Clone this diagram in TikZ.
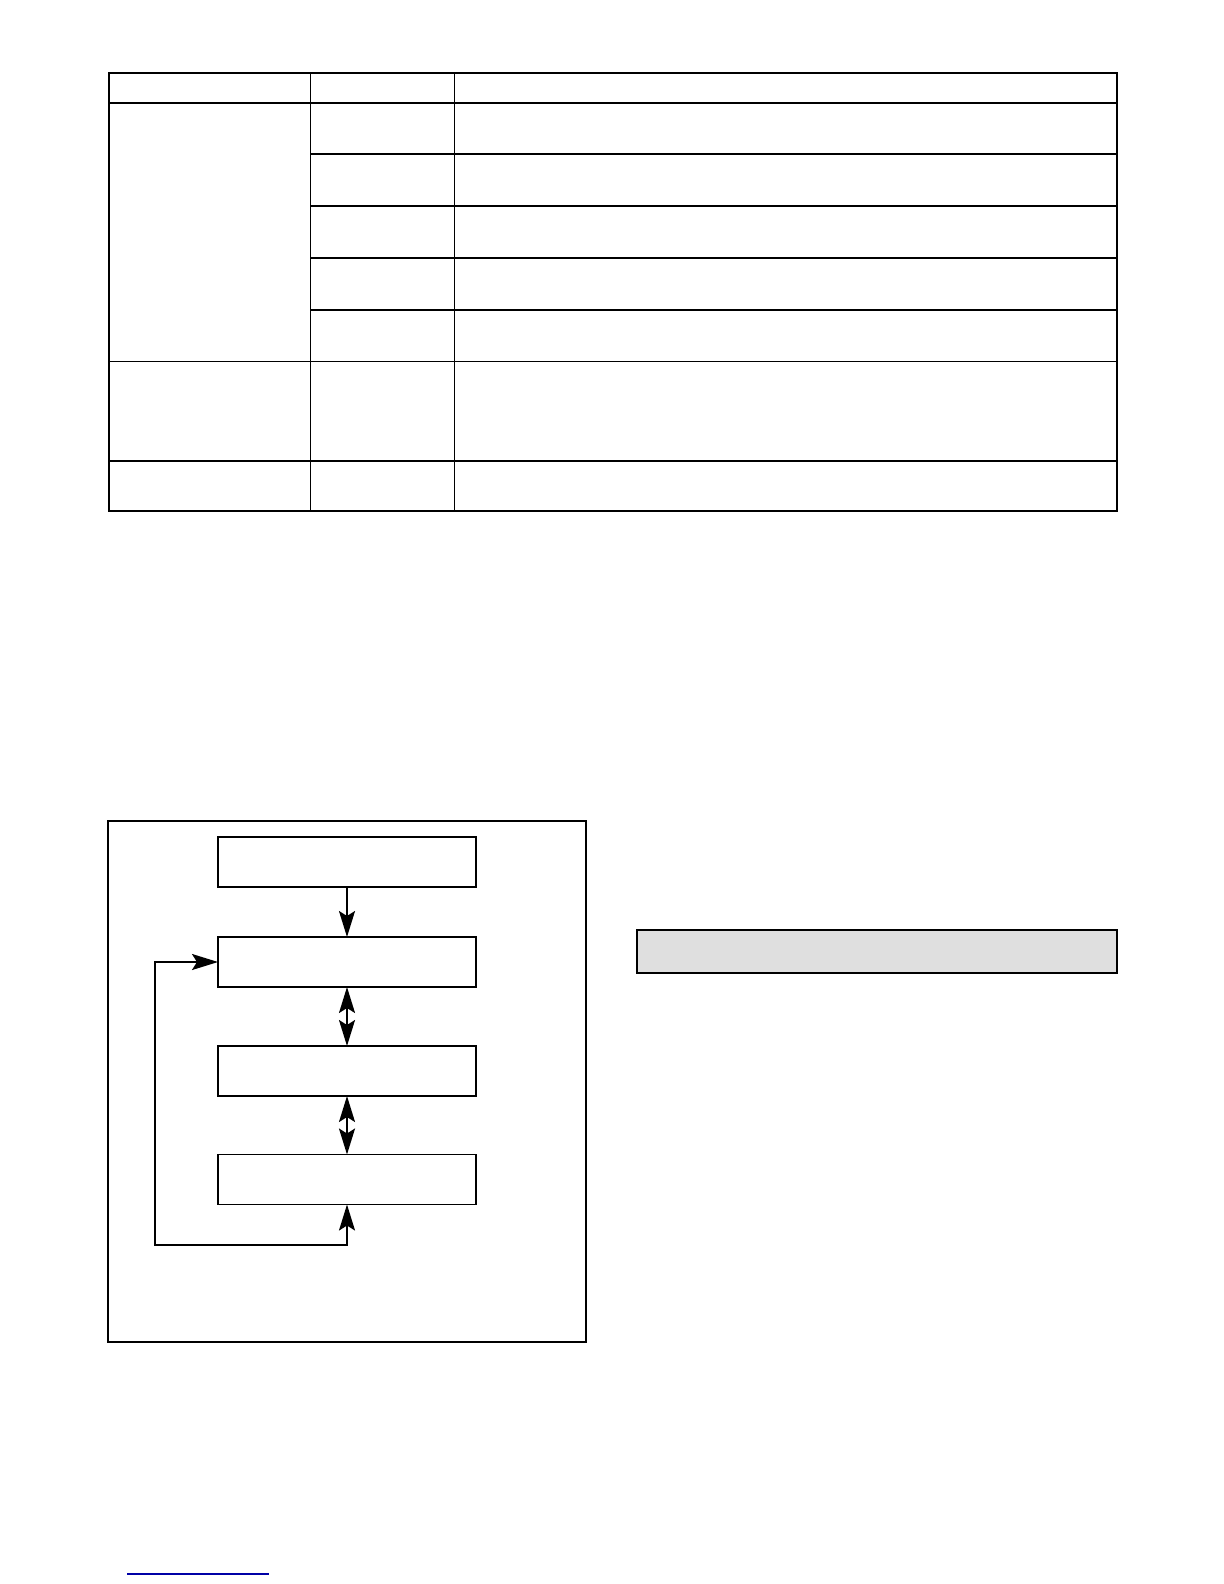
\documentclass[tikz,border=0pt]{standalone}
\usetikzlibrary{positioning,arrows.meta}

\tikzset{
  stagebox/.style={draw, line width=0.6pt, minimum width=129pt, minimum height=25pt,
    inner sep=0pt, outer sep=0pt},
  flowarrow/.style={line width=1pt, >={Stealth[length=13pt,width=8pt,inset=2.5pt]}}
}

\begin{document}
\begin{tikzpicture}[x=0.5pt,y=-0.5pt]
  \useasboundingbox (0,0) rectangle (1224,1584);

  % Table: outer frame and header
  \draw[line width=1.25pt] (109,73) rectangle (1117,511);
  \draw[line width=1.25pt] (109,103) -- (1117,103);

  % Table: column lines
  \draw[line width=0.75pt] (310.5,73) -- (310.5,511);
  \draw[line width=0.75pt] (454.5,73) -- (454.5,511);

  % Table: rows of the first group
  \foreach \y in {154,206,258,310}
    \draw[line width=0.75pt] (310.5,\y) -- (1117,\y);

  % Table: group separators
  \draw[line width=0.75pt] (109,361.5) -- (1117,361.5);
  \draw[line width=0.75pt] (109,461) -- (1117,461);

  % Flow chart frame
  \draw[line width=1.1pt] (108,821) rectangle (586,1342);

  % Flow chart stages
  \node[stagebox] (start) at (347,862) {};
  \node[stagebox] (upper) at (347,962) {};
  \node[stagebox] (middle) at (347,1071) {};
  \node[stagebox] (lower) at (347,1179.5) {};

  % Flow chart connectors
  \draw[flowarrow,->] (start) -- (upper);
  \draw[flowarrow,<->] (upper) -- (middle);
  \draw[flowarrow,<->] (middle) -- (lower);
  \coordinate (loop) at (155,1245);
  \draw[flowarrow,<->] (lower.south) |- (loop) |- (upper.west);

  % Grey bar
  \draw[fill=gray!25, line width=1.1pt] (637,930) rectangle (1117,973);

  % Blue rule at the foot
  \draw[blue!65!black, line width=0.7pt] (127,1574) -- (269,1574);
\end{tikzpicture}
\end{document}
